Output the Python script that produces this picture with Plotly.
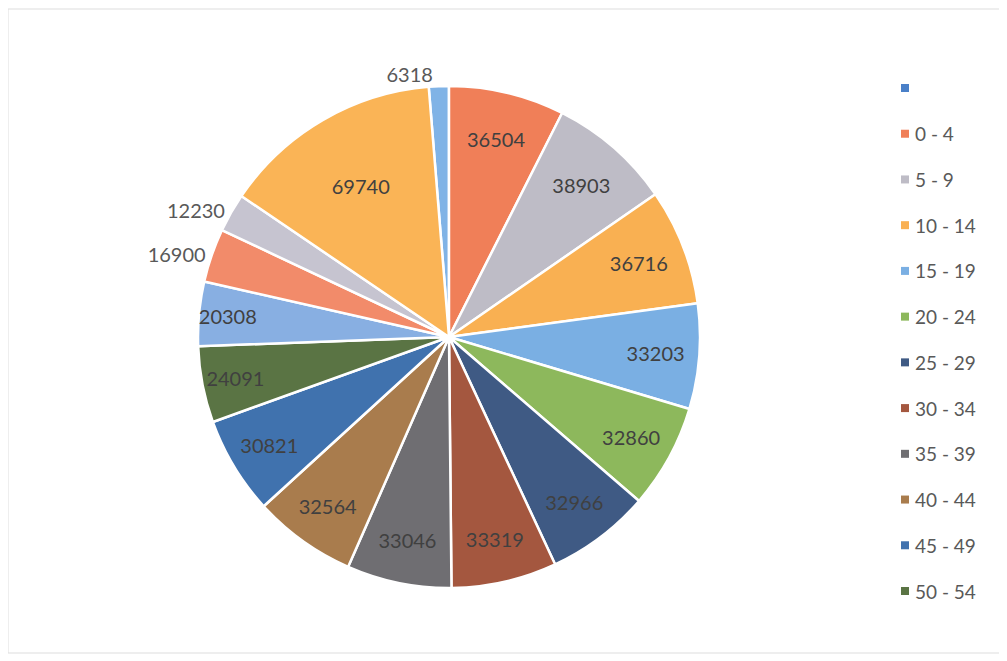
import plotly.graph_objects as go

# ---- data ----
categories = ["", "0 - 4", "5 - 9", "10 - 14", "15 - 19", "20 - 24", "25 - 29",
              "30 - 34", "35 - 39", "40 - 44", "45 - 49", "50 - 54",
              "55 - 59", "60 - 64", "65 - 69", "70+"]
values = [6318, 36504, 38903, 36716, 33203, 32860, 32966,
          33319, 33046, 32564, 30821, 24091,
          20308, 16900, 12230, 69740]
colors = ["#80B3E6", "#F07F58", "#BEBCC6", "#F9B052", "#7AAFE3", "#8DB85C", "#3F5A84",
          "#A4573F", "#6F6E72", "#A97C4D", "#4072AE", "#5A7444",
          "#88AFE2", "#F28B6A", "#C6C4D0", "#FAB456"]
legend_colors = ["#4A80C8"] + colors[1:]
outside_labels = {categories[0], categories[13], categories[14]}

# page body has an 8px margin: work in figure coordinates
OFF = 8
W, H = 1007 - OFF, 661 - OFF
cx, cy, R = 449 - OFF, 337 - OFF, 251

total = sum(values)
rotation = -360.0 * values[0] / total  # blank slice ends at 12 o'clock

textpos = ["outside" if c in outside_labels else "inside" for c in categories]
textcols = ["#595959" if c in outside_labels else "#404040" for c in categories]
FONT = "Lato, 'Open Sans', sans-serif"

fig = go.Figure(go.Pie(
    labels=[c if c else "(blank)" for c in categories],
    values=values,
    sort=False,
    direction="clockwise",
    rotation=rotation,
    marker=dict(colors=colors, line=dict(color="white", width=2.5)),
    texttemplate="%{value:.0f}",
    textposition=textpos,
    insidetextorientation="horizontal",
    textfont=dict(family=FONT, size=20, color=textcols),
    showlegend=False,
    hoverinfo="label+value",
    domain=dict(x=[(cx - R) / W, (cx + R) / W], y=[(H - cy - R) / H, (H - cy + R) / H]),
))

# manual legend (Excel shows only the first 12 entries)
legend_n = 12
y0, y1 = 88 - OFF, 591 - OFF
step = (y1 - y0) / (legend_n - 1)
sx0 = 901 - OFF
shapes = [dict(type="rect", xref="paper", yref="paper", x0=0, x1=(1001 - OFF) / W,
               y0=1 - (653 - OFF) / H, y1=1 - (9 - OFF) / H, line=dict(color="#DDDDDD", width=1))]
annotations = []
for i in range(legend_n):
    yy = y0 + i * step
    shapes.append(dict(type="rect", xref="paper", yref="paper",
                       x0=sx0 / W, x1=(sx0 + 8) / W, y0=1 - (yy + 4) / H, y1=1 - (yy - 4) / H,
                       line=dict(width=0), fillcolor=legend_colors[i]))
    annotations.append(dict(x=(sx0 + 12) / W, y=1 - yy / H, xref="paper", yref="paper",
                            text=categories[i], showarrow=False, xanchor="left", yanchor="middle",
                            font=dict(family=FONT, size=19, color="#595959")))

fig.update_layout(
    width=W, height=H,
    margin=dict(l=0, r=0, t=0, b=0),
    paper_bgcolor="white",
    shapes=shapes,
    annotations=annotations,
    uniformtext=dict(minsize=19, mode="show"),
)

fig.write_html("out.html")
